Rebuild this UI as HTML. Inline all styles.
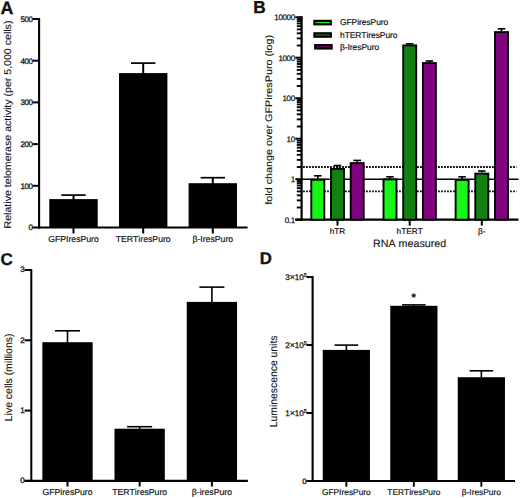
<!DOCTYPE html>
<html><head><meta charset="utf-8"><style>
html,body{margin:0;padding:0;background:#fff;}
body{width:520px;height:498px;overflow:hidden;}
svg{display:block;}
text{font-family:"Liberation Sans", sans-serif;fill:#111;text-rendering:geometricPrecision;font-kerning:none;stroke:#111;}
</style></head><body>
<svg width="520" height="498" viewBox="0 0 520 498">
<rect x="0" y="0" width="520" height="498" fill="#fff"/>
<g stroke-width="0.18">
<text x="0.6" y="13.8" font-size="17.8" text-anchor="start" font-weight="bold" stroke-width="0.35">A</text>
<line x1="39.1" y1="18.0" x2="39.1" y2="228.6" stroke="#000" stroke-width="2.1" />
<line x1="32.6" y1="227.5" x2="39.1" y2="227.5" stroke="#000" stroke-width="2" />
<text x="32.6" y="230.4" font-size="8.0" text-anchor="end" font-weight="normal" letter-spacing="-0.4" stroke-width="0.3">0</text>
<line x1="32.6" y1="185.8" x2="39.1" y2="185.8" stroke="#000" stroke-width="2" />
<text x="32.6" y="188.70000000000002" font-size="8.0" text-anchor="end" font-weight="normal" letter-spacing="-0.4" stroke-width="0.3">100</text>
<line x1="32.6" y1="144.1" x2="39.1" y2="144.1" stroke="#000" stroke-width="2" />
<text x="32.6" y="147.0" font-size="8.0" text-anchor="end" font-weight="normal" letter-spacing="-0.4" stroke-width="0.3">200</text>
<line x1="32.6" y1="102.4" x2="39.1" y2="102.4" stroke="#000" stroke-width="2" />
<text x="32.6" y="105.30000000000001" font-size="8.0" text-anchor="end" font-weight="normal" letter-spacing="-0.4" stroke-width="0.3">300</text>
<line x1="32.6" y1="60.69999999999999" x2="39.1" y2="60.69999999999999" stroke="#000" stroke-width="2" />
<text x="32.6" y="63.59999999999999" font-size="8.0" text-anchor="end" font-weight="normal" letter-spacing="-0.4" stroke-width="0.3">400</text>
<line x1="32.6" y1="19.0" x2="39.1" y2="19.0" stroke="#000" stroke-width="2" />
<text x="32.6" y="21.9" font-size="8.0" text-anchor="end" font-weight="normal" letter-spacing="-0.4" stroke-width="0.3">500</text>
<line x1="38.1" y1="227.5" x2="247.6" y2="227.5" stroke="#000" stroke-width="2.1" />
<rect x="49.30" y="199.10" width="48.40" height="28.40" fill="#000"/>
<line x1="73.5" y1="195.1" x2="73.5" y2="200.1" stroke="#000" stroke-width="2" />
<line x1="61.3" y1="195.1" x2="85.7" y2="195.1" stroke="#000" stroke-width="1.7" />
<line x1="73.5" y1="227.5" x2="73.5" y2="233.5" stroke="#000" stroke-width="2" />
<text x="73.5" y="241.6" font-size="8.7" text-anchor="middle" font-weight="normal" >GFPIresPuro</text>
<rect x="119.00" y="73.10" width="48.40" height="154.40" fill="#000"/>
<line x1="143.2" y1="63.1" x2="143.2" y2="74.1" stroke="#000" stroke-width="2" />
<line x1="131.0" y1="63.1" x2="155.39999999999998" y2="63.1" stroke="#000" stroke-width="1.7" />
<line x1="143.2" y1="227.5" x2="143.2" y2="233.5" stroke="#000" stroke-width="2" />
<text x="143.2" y="241.6" font-size="8.7" text-anchor="middle" font-weight="normal" >TERTiresPuro</text>
<rect x="188.60" y="183.20" width="48.40" height="44.30" fill="#000"/>
<line x1="212.8" y1="177.7" x2="212.8" y2="184.2" stroke="#000" stroke-width="2" />
<line x1="200.60000000000002" y1="177.7" x2="225.0" y2="177.7" stroke="#000" stroke-width="1.7" />
<line x1="212.8" y1="227.5" x2="212.8" y2="233.5" stroke="#000" stroke-width="2" />
<text x="212.8" y="241.6" font-size="8.7" text-anchor="middle" font-weight="normal" >&#946;-IresPuro</text>
<text transform="translate(10.6,124.5) rotate(-90) scale(1,0.93)" x="0" y="0" font-size="10.6" text-anchor="middle" stroke-width="0.12">Relative telomerase activity (per 5,000 cells)</text>
<text x="253.2" y="13.0" font-size="17.3" text-anchor="start" font-weight="bold" stroke-width="0.35">B</text>
<line x1="301.6" y1="179.2" x2="518.5" y2="179.2" stroke="#000" stroke-width="1.6" />
<line x1="303.1" y1="167.00828517560876" x2="516.5" y2="167.00828517560876" stroke="#000" stroke-width="1.8" stroke-dasharray="1.7 1.3"/>
<line x1="303.1" y1="191.39171482439122" x2="516.5" y2="191.39171482439122" stroke="#000" stroke-width="1.8" stroke-dasharray="1.7 1.3"/>
<line x1="301.6" y1="16.19999999999999" x2="301.6" y2="220.7" stroke="#000" stroke-width="2.2" />
<line x1="295.3" y1="219.7" x2="301.6" y2="219.7" stroke="#000" stroke-width="2" />
<text x="294.8" y="222.6" font-size="8.0" text-anchor="end" font-weight="normal" letter-spacing="-0.35" stroke-width="0.25">0.1</text>
<line x1="296.8" y1="207.50828517560876" x2="301.6" y2="207.50828517560876" stroke="#000" stroke-width="1.9" />
<line x1="296.8" y1="200.37658918385367" x2="301.6" y2="200.37658918385367" stroke="#000" stroke-width="1.9" />
<line x1="296.8" y1="195.3165703512175" x2="301.6" y2="195.3165703512175" stroke="#000" stroke-width="1.9" />
<line x1="296.8" y1="191.39171482439122" x2="301.6" y2="191.39171482439122" stroke="#000" stroke-width="1.9" />
<line x1="296.8" y1="188.1848743594624" x2="301.6" y2="188.1848743594624" stroke="#000" stroke-width="1.9" />
<line x1="296.8" y1="185.4735293794226" x2="301.6" y2="185.4735293794226" stroke="#000" stroke-width="1.9" />
<line x1="296.8" y1="183.12485552682628" x2="301.6" y2="183.12485552682628" stroke="#000" stroke-width="1.9" />
<line x1="296.8" y1="181.05317836770732" x2="301.6" y2="181.05317836770732" stroke="#000" stroke-width="1.9" />
<line x1="295.3" y1="179.2" x2="301.6" y2="179.2" stroke="#000" stroke-width="2" />
<text x="294.8" y="182.1" font-size="8.0" text-anchor="end" font-weight="normal" letter-spacing="-0.35" stroke-width="0.25">1</text>
<line x1="296.8" y1="167.00828517560876" x2="301.6" y2="167.00828517560876" stroke="#000" stroke-width="1.9" />
<line x1="296.8" y1="159.87658918385367" x2="301.6" y2="159.87658918385367" stroke="#000" stroke-width="1.9" />
<line x1="296.8" y1="154.8165703512175" x2="301.6" y2="154.8165703512175" stroke="#000" stroke-width="1.9" />
<line x1="296.8" y1="150.89171482439122" x2="301.6" y2="150.89171482439122" stroke="#000" stroke-width="1.9" />
<line x1="296.8" y1="147.6848743594624" x2="301.6" y2="147.6848743594624" stroke="#000" stroke-width="1.9" />
<line x1="296.8" y1="144.9735293794226" x2="301.6" y2="144.9735293794226" stroke="#000" stroke-width="1.9" />
<line x1="296.8" y1="142.62485552682628" x2="301.6" y2="142.62485552682628" stroke="#000" stroke-width="1.9" />
<line x1="296.8" y1="140.55317836770735" x2="301.6" y2="140.55317836770735" stroke="#000" stroke-width="1.9" />
<line x1="295.3" y1="138.7" x2="301.6" y2="138.7" stroke="#000" stroke-width="2" />
<text x="294.8" y="141.6" font-size="8.0" text-anchor="end" font-weight="normal" letter-spacing="-0.35" stroke-width="0.25">10</text>
<line x1="296.8" y1="126.50828517560875" x2="301.6" y2="126.50828517560875" stroke="#000" stroke-width="1.9" />
<line x1="296.8" y1="119.37658918385367" x2="301.6" y2="119.37658918385367" stroke="#000" stroke-width="1.9" />
<line x1="296.8" y1="114.3165703512175" x2="301.6" y2="114.3165703512175" stroke="#000" stroke-width="1.9" />
<line x1="296.8" y1="110.39171482439123" x2="301.6" y2="110.39171482439123" stroke="#000" stroke-width="1.9" />
<line x1="296.8" y1="107.18487435946243" x2="301.6" y2="107.18487435946243" stroke="#000" stroke-width="1.9" />
<line x1="296.8" y1="104.47352937942259" x2="301.6" y2="104.47352937942259" stroke="#000" stroke-width="1.9" />
<line x1="296.8" y1="102.12485552682628" x2="301.6" y2="102.12485552682628" stroke="#000" stroke-width="1.9" />
<line x1="296.8" y1="100.05317836770733" x2="301.6" y2="100.05317836770733" stroke="#000" stroke-width="1.9" />
<line x1="295.3" y1="98.19999999999999" x2="301.6" y2="98.19999999999999" stroke="#000" stroke-width="2" />
<text x="294.8" y="101.1" font-size="8.0" text-anchor="end" font-weight="normal" letter-spacing="-0.35" stroke-width="0.25">100</text>
<line x1="296.8" y1="86.00828517560875" x2="301.6" y2="86.00828517560875" stroke="#000" stroke-width="1.9" />
<line x1="296.8" y1="78.87658918385365" x2="301.6" y2="78.87658918385365" stroke="#000" stroke-width="1.9" />
<line x1="296.8" y1="73.8165703512175" x2="301.6" y2="73.8165703512175" stroke="#000" stroke-width="1.9" />
<line x1="296.8" y1="69.89171482439123" x2="301.6" y2="69.89171482439123" stroke="#000" stroke-width="1.9" />
<line x1="296.8" y1="66.68487435946243" x2="301.6" y2="66.68487435946243" stroke="#000" stroke-width="1.9" />
<line x1="296.8" y1="63.97352937942259" x2="301.6" y2="63.97352937942259" stroke="#000" stroke-width="1.9" />
<line x1="296.8" y1="61.624855526826266" x2="301.6" y2="61.624855526826266" stroke="#000" stroke-width="1.9" />
<line x1="296.8" y1="59.55317836770733" x2="301.6" y2="59.55317836770733" stroke="#000" stroke-width="1.9" />
<line x1="295.3" y1="57.69999999999999" x2="301.6" y2="57.69999999999999" stroke="#000" stroke-width="2" />
<text x="294.8" y="60.59999999999999" font-size="8.0" text-anchor="end" font-weight="normal" letter-spacing="-0.35" stroke-width="0.25">1000</text>
<line x1="296.8" y1="45.50828517560876" x2="301.6" y2="45.50828517560876" stroke="#000" stroke-width="1.9" />
<line x1="296.8" y1="38.37658918385364" x2="301.6" y2="38.37658918385364" stroke="#000" stroke-width="1.9" />
<line x1="296.8" y1="33.31657035121751" x2="301.6" y2="33.31657035121751" stroke="#000" stroke-width="1.9" />
<line x1="296.8" y1="29.391714824391215" x2="301.6" y2="29.391714824391215" stroke="#000" stroke-width="1.9" />
<line x1="296.8" y1="26.184874359462412" x2="301.6" y2="26.184874359462412" stroke="#000" stroke-width="1.9" />
<line x1="296.8" y1="23.473529379422587" x2="301.6" y2="23.473529379422587" stroke="#000" stroke-width="1.9" />
<line x1="296.8" y1="21.124855526826252" x2="301.6" y2="21.124855526826252" stroke="#000" stroke-width="1.9" />
<line x1="296.8" y1="19.053178367707346" x2="301.6" y2="19.053178367707346" stroke="#000" stroke-width="1.9" />
<line x1="295.3" y1="17.19999999999999" x2="301.6" y2="17.19999999999999" stroke="#000" stroke-width="2" />
<text x="294.8" y="20.099999999999987" font-size="8.0" text-anchor="end" font-weight="normal" letter-spacing="-0.35" stroke-width="0.25">10000</text>
<line x1="295.3" y1="219.7" x2="518.5" y2="219.7" stroke="#000" stroke-width="2.2" />
<line x1="317.8" y1="175.8" x2="317.8" y2="178.8" stroke="#000" stroke-width="1.6" />
<line x1="314.0" y1="175.8" x2="321.6" y2="175.8" stroke="#000" stroke-width="1.6" />
<rect x="311.30" y="179.70" width="13.00" height="40.00" fill="#18f618" stroke="#000" stroke-width="1.9"/>
<line x1="337.5" y1="165.5" x2="337.5" y2="168.0" stroke="#000" stroke-width="1.6" />
<line x1="333.7" y1="165.5" x2="341.3" y2="165.5" stroke="#000" stroke-width="1.6" />
<rect x="331.00" y="168.90" width="13.00" height="50.80" fill="#128012" stroke="#000" stroke-width="1.9"/>
<line x1="357.2" y1="160.4" x2="357.2" y2="162.2" stroke="#000" stroke-width="1.6" />
<line x1="353.4" y1="160.4" x2="361.0" y2="160.4" stroke="#000" stroke-width="1.6" />
<rect x="350.70" y="163.10" width="13.00" height="56.60" fill="#80037f" stroke="#000" stroke-width="1.9"/>
<line x1="337.5" y1="219.7" x2="337.5" y2="225.6" stroke="#000" stroke-width="2" />
<text x="337.5" y="233.6" font-size="8.3" text-anchor="middle" font-weight="normal" >hTR</text>
<line x1="390.0" y1="176.8" x2="390.0" y2="178.5" stroke="#000" stroke-width="1.6" />
<line x1="386.2" y1="176.8" x2="393.8" y2="176.8" stroke="#000" stroke-width="1.6" />
<rect x="383.50" y="179.40" width="13.00" height="40.30" fill="#18f618" stroke="#000" stroke-width="1.9"/>
<line x1="409.7" y1="43.9" x2="409.7" y2="44.5" stroke="#000" stroke-width="1.6" />
<line x1="405.9" y1="43.9" x2="413.5" y2="43.9" stroke="#000" stroke-width="1.6" />
<rect x="403.20" y="45.40" width="13.00" height="174.30" fill="#128012" stroke="#000" stroke-width="1.9"/>
<line x1="429.4" y1="61.0" x2="429.4" y2="62.2" stroke="#000" stroke-width="1.6" />
<line x1="425.59999999999997" y1="61.0" x2="433.2" y2="61.0" stroke="#000" stroke-width="1.6" />
<rect x="422.90" y="63.10" width="13.00" height="156.60" fill="#80037f" stroke="#000" stroke-width="1.9"/>
<line x1="409.7" y1="219.7" x2="409.7" y2="225.6" stroke="#000" stroke-width="2" />
<text x="409.7" y="233.6" font-size="8.3" text-anchor="middle" font-weight="normal" >hTERT</text>
<line x1="462.1" y1="176.8" x2="462.1" y2="179.0" stroke="#000" stroke-width="1.6" />
<line x1="458.3" y1="176.8" x2="465.90000000000003" y2="176.8" stroke="#000" stroke-width="1.6" />
<rect x="455.60" y="179.90" width="13.00" height="39.80" fill="#18f618" stroke="#000" stroke-width="1.9"/>
<line x1="481.8" y1="171.0" x2="481.8" y2="172.7" stroke="#000" stroke-width="1.6" />
<line x1="478.0" y1="171.0" x2="485.6" y2="171.0" stroke="#000" stroke-width="1.6" />
<rect x="475.30" y="173.60" width="13.00" height="46.10" fill="#128012" stroke="#000" stroke-width="1.9"/>
<line x1="501.5" y1="28.8" x2="501.5" y2="31.2" stroke="#000" stroke-width="1.6" />
<line x1="497.7" y1="28.8" x2="505.3" y2="28.8" stroke="#000" stroke-width="1.6" />
<rect x="495.00" y="32.10" width="13.00" height="187.60" fill="#80037f" stroke="#000" stroke-width="1.9"/>
<line x1="481.8" y1="219.7" x2="481.8" y2="225.6" stroke="#000" stroke-width="2" />
<text x="481.8" y="233.6" font-size="8.3" text-anchor="middle" font-weight="normal" >&#946;-</text>
<text x="409.6" y="247.3" font-size="10.7" text-anchor="middle" font-weight="normal" stroke-width="0.1">RNA measured</text>
<text transform="translate(271.6,119.8) rotate(-90) scale(1,0.88)" x="0" y="0" font-size="10.8" text-anchor="middle" stroke-width="0.12">fold change over GFPiresPuro (log)</text>
<rect x="313.30" y="19.80" width="18.60" height="5.60" fill="#000"/>
<line x1="315.5" y1="22.6" x2="329.8" y2="22.6" stroke="#18f618" stroke-width="1.2" />
<text x="340.0" y="25.3" font-size="8.45" text-anchor="start" font-weight="normal" letter-spacing="-0.05">GFPiresPuro</text>
<rect x="313.30" y="32.20" width="18.60" height="5.60" fill="#000"/>
<line x1="315.5" y1="35.0" x2="329.8" y2="35.0" stroke="#128012" stroke-width="1.2" />
<text x="340.0" y="37.7" font-size="8.45" text-anchor="start" font-weight="normal" letter-spacing="-0.05">hTERTiresPuro</text>
<rect x="314.10" y="44.00" width="18.60" height="5.60" fill="#000"/>
<line x1="316.3" y1="46.8" x2="330.6" y2="46.8" stroke="#80037f" stroke-width="1.2" />
<text x="340.0" y="49.5" font-size="8.45" text-anchor="start" font-weight="normal" letter-spacing="-0.05">&#946;-IresPuro</text>
<text x="0.4" y="264.7" font-size="17" text-anchor="start" font-weight="bold" stroke-width="0.35">C</text>
<line x1="31.3" y1="269.0" x2="31.3" y2="481.9" stroke="#000" stroke-width="2" />
<line x1="24.6" y1="480.9" x2="31.3" y2="480.9" stroke="#000" stroke-width="2" />
<text x="24.8" y="483.29999999999995" font-size="8.0" text-anchor="end" font-weight="normal" stroke-width="0.3">0</text>
<line x1="24.6" y1="410.59999999999997" x2="31.3" y2="410.59999999999997" stroke="#000" stroke-width="2" />
<text x="24.8" y="412.99999999999994" font-size="8.0" text-anchor="end" font-weight="normal" stroke-width="0.3">1</text>
<line x1="24.6" y1="340.29999999999995" x2="31.3" y2="340.29999999999995" stroke="#000" stroke-width="2" />
<text x="24.8" y="342.69999999999993" font-size="8.0" text-anchor="end" font-weight="normal" stroke-width="0.3">2</text>
<line x1="24.6" y1="270.0" x2="31.3" y2="270.0" stroke="#000" stroke-width="2" />
<text x="24.8" y="272.4" font-size="8.0" text-anchor="end" font-weight="normal" stroke-width="0.3">3</text>
<line x1="24.6" y1="480.9" x2="247.9" y2="480.9" stroke="#000" stroke-width="2.1" />
<rect x="42.35" y="342.20" width="50.30" height="138.70" fill="#000"/>
<line x1="67.5" y1="330.8" x2="67.5" y2="343.2" stroke="#000" stroke-width="1.6" />
<line x1="55.0" y1="330.8" x2="80.0" y2="330.8" stroke="#000" stroke-width="1.6" />
<line x1="67.5" y1="480.9" x2="67.5" y2="486.5" stroke="#000" stroke-width="2" />
<text x="67.5" y="494.7" font-size="8.7" text-anchor="middle" font-weight="normal" >GFPiresPuro</text>
<rect x="114.50" y="428.70" width="50.30" height="52.20" fill="#000"/>
<line x1="139.65" y1="426.7" x2="139.65" y2="429.7" stroke="#000" stroke-width="1.6" />
<line x1="127.15" y1="426.7" x2="152.15" y2="426.7" stroke="#000" stroke-width="1.6" />
<line x1="139.65" y1="480.9" x2="139.65" y2="486.5" stroke="#000" stroke-width="2" />
<text x="139.65" y="494.7" font-size="8.7" text-anchor="middle" font-weight="normal" >TERTiresPuro</text>
<rect x="186.75" y="301.90" width="50.30" height="179.00" fill="#000"/>
<line x1="211.9" y1="287.1" x2="211.9" y2="302.9" stroke="#000" stroke-width="1.6" />
<line x1="199.4" y1="287.1" x2="224.4" y2="287.1" stroke="#000" stroke-width="1.6" />
<line x1="211.9" y1="480.9" x2="211.9" y2="486.5" stroke="#000" stroke-width="2" />
<text x="211.9" y="494.7" font-size="8.7" text-anchor="middle" font-weight="normal" >&#946;-iresPuro</text>
<text transform="translate(12.4,377.4) rotate(-90) scale(1,1.0)" x="0" y="0" font-size="10.45" text-anchor="middle" stroke-width="0.12">Live cells (millions)</text>
<text x="259.8" y="264.2" font-size="16.8" text-anchor="start" font-weight="bold" stroke-width="0.35">D</text>
<line x1="312.6" y1="276.06" x2="312.6" y2="482.0" stroke="#000" stroke-width="2.1" />
<line x1="306.6" y1="481.0" x2="312.6" y2="481.0" stroke="#000" stroke-width="2" />
<text x="306.6" y="483.9" font-size="7.8" text-anchor="end" font-weight="normal" stroke-width="0.3">0</text>
<line x1="306.6" y1="413.02" x2="312.6" y2="413.02" stroke="#000" stroke-width="2" />
<text x="306.6" y="415.92" font-size="8.2" text-anchor="end" letter-spacing="-0.1" stroke-width="0.25">1<tspan font-size="8.8">&#215;</tspan>10<tspan font-size="5.5" dy="-2.9">5</tspan></text>
<line x1="306.6" y1="345.03999999999996" x2="312.6" y2="345.03999999999996" stroke="#000" stroke-width="2" />
<text x="306.6" y="347.94" font-size="8.2" text-anchor="end" letter-spacing="-0.1" stroke-width="0.25">2<tspan font-size="8.8">&#215;</tspan>10<tspan font-size="5.5" dy="-2.9">5</tspan></text>
<line x1="306.6" y1="277.06" x2="312.6" y2="277.06" stroke="#000" stroke-width="2" />
<text x="306.6" y="279.96" font-size="8.2" text-anchor="end" letter-spacing="-0.1" stroke-width="0.25">3<tspan font-size="8.8">&#215;</tspan>10<tspan font-size="5.5" dy="-2.9">5</tspan></text>
<line x1="306.6" y1="481.0" x2="515.0" y2="481.0" stroke="#000" stroke-width="2.1" />
<rect x="322.75" y="349.90" width="47.20" height="131.10" fill="#000"/>
<line x1="346.35" y1="345.1" x2="346.35" y2="350.9" stroke="#000" stroke-width="1.6" />
<line x1="334.55" y1="345.1" x2="358.15000000000003" y2="345.1" stroke="#000" stroke-width="1.6" />
<line x1="346.35" y1="481.0" x2="346.35" y2="486.7" stroke="#000" stroke-width="1.9" />
<text x="346.35" y="494.6" font-size="8.4" text-anchor="middle" font-weight="normal" >GFPIresPuro</text>
<rect x="390.25" y="305.80" width="47.20" height="175.20" fill="#000"/>
<line x1="413.85" y1="304.9" x2="413.85" y2="306.8" stroke="#000" stroke-width="1.6" />
<line x1="402.05" y1="304.9" x2="425.65000000000003" y2="304.9" stroke="#000" stroke-width="1.6" />
<line x1="413.85" y1="481.0" x2="413.85" y2="486.7" stroke="#000" stroke-width="1.9" />
<text x="413.85" y="494.6" font-size="8.4" text-anchor="middle" font-weight="normal" >TERTiresPuro</text>
<rect x="457.75" y="377.20" width="47.20" height="103.80" fill="#000"/>
<line x1="481.35" y1="370.8" x2="481.35" y2="378.2" stroke="#000" stroke-width="1.6" />
<line x1="469.55" y1="370.8" x2="493.15000000000003" y2="370.8" stroke="#000" stroke-width="1.6" />
<line x1="481.35" y1="481.0" x2="481.35" y2="486.7" stroke="#000" stroke-width="1.9" />
<text x="481.35" y="494.6" font-size="8.4" text-anchor="middle" font-weight="normal" >&#946;-IresPuro</text>
<text x="413.6" y="301.2" font-size="11" text-anchor="middle" font-weight="bold" >*</text>
<text transform="translate(276.9,381.4) rotate(-90) scale(1,1.0)" x="0" y="0" font-size="10.4" text-anchor="middle" stroke-width="0.12">Luminescence units</text>
</g>
</svg>
</body></html>
